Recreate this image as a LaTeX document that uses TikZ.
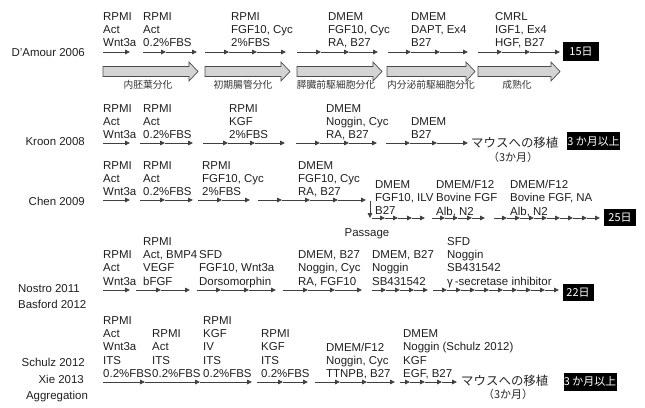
\documentclass[tikz,border=0pt]{standalone}
\usepackage{fontspec}
\setmainfont{Liberation Sans}
\newfontfamily\cjk{Noto Sans CJK JP}
\usetikzlibrary{arrows.meta}
\def\fs{\fontsize{11.5}{13.4}\selectfont}
\def\cjks{\cjk\fontsize{9.8}{12}\selectfont}
\def\cjkm{\cjk\fontsize{12.5}{14}\selectfont}
\def\cjkp{\cjk\fontsize{11}{13}\selectfont}
\def\cjkb{\cjk\fontsize{11}{13}\selectfont}
\tikzset{
  lab/.style={font=\fs, inner sep=0, text=black!88},
  cond/.style={anchor=north west, inner sep=0, align=left, font=\fs, text=black!88},
  tl/.style={draw=black!75, line width=0.7bp, -{Triangle[length=4.8bp,width=4.4bp]}},
  blk/.style={fill=black!17, draw=black!70, line width=0.7bp},
  stage/.style={font=\cjks, text=black!80, inner sep=0},
  jp/.style={font=\cjkm, inner sep=0, text=black!85},
  jpp/.style={font=\cjkp, inner sep=0, text=black!85},
  daybox/.style={fill=black, text=white, font=\cjkb, inner sep=0}
}
\newcommand\seg[2]{\foreach \xx [count=\ii, remember=\xx as \px (initially 0)] in {#2}{\ifnum\ii>1 \draw[tl] (\px,#1) -- (\xx,#1);\fi}}
\newcommand\blkarrow[2]{\draw[blk] (#1,66.5) -- (#2-9,66.5) -- (#2-9,62) -- (#2,71.5) -- (#2-9,81) -- (#2-9,76.5) -- (#1,76.5) -- cycle;}
\begin{document}
\begin{tikzpicture}[x=1bp,y=-1bp]
\useasboundingbox (0,0) rectangle (645,407);
% ---------------- D'Amour 2006
\node[lab,anchor=east] (ldam) at (85,53) {D’Amour 2006};
\node[cond] (a1) at (103,12) {RPMI\\Act\\Wnt3a};
\node[cond] (a2) at (143,12) {RPMI\\Act\\0.2\%FBS};
\node[cond] (a3) at (231,12) {RPMI\\FGF10, Cyc\\2\%FBS};
\node[cond] (a4) at (328,12) {DMEM\\FGF10, Cyc\\RA, B27};
\node[cond] (a5) at (411,12) {DMEM\\DAPT, Ex4\\B27};
\node[cond] (a6) at (495,12) {CMRL\\IGF1, Ex4\\HGF, B27};
\seg{52}{103,130}
\seg{52}{143,166,197}
\seg{52}{205,229,257,286}
\seg{52}{297,321,349,378}
\seg{52}{388,411,440,468}
\seg{52}{478,502,530,560}
\node[daybox,minimum width=36bp,minimum height=19bp] (b15) at (581,51.5) {15日};
\blkarrow{103}{198}
\blkarrow{205}{290}
\blkarrow{297}{382}
\blkarrow{387}{475}
\blkarrow{478}{560}
\node[stage] (s1) at (148,84.5) {内胚葉分化};
\node[stage] (s2) at (243,84.5) {初期腸管分化};
\node[stage] (s3) at (336,84.5) {膵臓前駆細胞分化};
\node[stage] (s4) at (431,84.5) {内分泌前駆細胞分化};
\node[stage] (s5) at (517,84.5) {成熟化};
% ---------------- Kroon 2008
\node[lab,anchor=east] (lkr) at (85,142) {Kroon 2008};
\node[cond] (k1) at (103,104) {RPMI\\Act\\Wnt3a};
\node[cond] (k2) at (143,104) {RPMI\\Act\\0.2\%FBS};
\node[cond] (k3) at (229,104) {RPMI\\KGF\\2\%FBS};
\node[cond] (k4) at (326,104) {DMEM\\Noggin, Cyc\\RA, B27};
\node[cond] (k5) at (411,117) {DMEM\\B27};
\seg{143}{103,130}
\seg{143}{140,165,193}
\seg{143}{203,228,255,285}
\seg{143}{296,320,349,377}
\seg{143}{386,410,437,468}
\node[jp,anchor=west] (km) at (471,143) {マウスへの移植};
\node[jpp] (km3) at (513,157.5) {（3か月）};
\node[daybox,minimum width=53bp,minimum height=18bp] (kb) at (593.5,141) {3 か月以上};
% ---------------- Chen 2009
\node[lab,anchor=east] (lch) at (85,201) {Chen 2009};
\node[cond] (c1) at (103,161) {RPMI\\Act\\Wnt3a};
\node[cond] (c2) at (143,161) {RPMI\\Act\\0.2\%FBS};
\node[cond] (c3) at (202,161) {RPMI\\FGF10, Cyc\\2\%FBS};
\node[cond] (c4) at (298,161) {DMEM\\FGF10, Cyc\\RA, B27};
\node[cond] (c5) at (375,180) {DMEM\\FGF10, ILV\\B27};
\node[cond] (c6) at (436,180) {DMEM/F12\\Bovine FGF\\Alb, N2};
\node[cond] (c7) at (510,180) {DMEM/F12\\Bovine FGF, NA\\Alb, N2};
\seg{200}{103,130}
\seg{200}{140,165,193}
\seg{200}{198,222,250}
\seg{200}{258,282,310,338,366}
\draw[tl] (370,201) -- (370,218);
\seg{218}{372,385,398,412,425}
\seg{218}{432,445,458,472,485}
\seg{218}{494,507,520,534,547,560,573,587,600}
\node[daybox,minimum width=32bp,minimum height=17bp] (cb) at (620,217.5) {25日};
\node[lab] (pas) at (367,233.5) {Passage};
% ---------------- Nostro 2011 / Basford 2012
\node[lab,anchor=west] (lno) at (18,289) {Nostro 2011};
\node[lab,anchor=west] (lba) at (18,304) {Basford 2012};
\node[cond] (n1) at (103,250.3) {RPMI\\Act\\Wnt3a};
\node[cond] (n2) at (143,237) {RPMI\\Act, BMP4\\VEGF\\bFGF};
\node[cond] (n3) at (199,250.3) {SFD\\FGF10, Wnt3a\\Dorsomorphin};
\node[cond] (n4) at (298,250.3) {DMEM, B27\\Noggin, Cyc\\RA, FGF10};
\node[cond] (n5) at (372,250.3) {DMEM, B27\\Noggin\\SB431542};
\node[cond] (n6) at (447,237) {SFD\\Noggin\\SB431542\\γ\,-secretase inhibitor};
\seg{290}{103,130}
\seg{290}{136,161,190}
\seg{290}{197,221,249,276}
\seg{290}{283,308,335,362}
\seg{290}{372,386,400,414,428}
\seg{290}{433,447,461,475,489,503,517,531,545,559}
\node[daybox,minimum width=31bp,minimum height=17bp] (nb) at (578,292.5) {22日};
% ---------------- Schulz 2012 / Xie 2013
\node[lab,anchor=east] (lsc) at (85,362) {Schulz 2012};
\node[lab,anchor=east] (lxi) at (84,379) {Xie 2013};
\node[lab] (lag) at (57,397) {Aggregation};
\node[cond] (z1) at (103,316) {RPMI\\Act\\Wnt3a\\ITS\\0.2\%FBS};
\node[cond] (z2) at (152,329.3) {RPMI\\Act\\ITS\\0.2\%FBS};
\node[cond] (z3) at (203,316) {RPMI\\KGF\\IV\\ITS\\0.2\%FBS};
\node[cond] (z4) at (261,329.3) {RPMI\\KGF\\ITS\\0.2\%FBS};
\node[cond] (z5) at (326,342.7) {DMEM/F12\\Noggin, Cyc\\TTNPB, B27};
\node[cond] (z6) at (403,329.3) {DMEM\\Noggin (Schulz 2012)\\KGF\\EGF, B27};
\seg{382}{103,145,200,252}
\seg{382}{257,283,308}
\seg{382}{315,340,367,395}
\seg{382}{400,410,425,442,457}
\node[jp,anchor=west] (zm) at (461,381) {マウスへの移植};
\node[jpp] (zm3) at (508,394.5) {（3か月）};
\node[daybox,minimum width=53bp,minimum height=18bp] (zb) at (590,381.5) {3 か月以上};
\end{tikzpicture}
\end{document}
